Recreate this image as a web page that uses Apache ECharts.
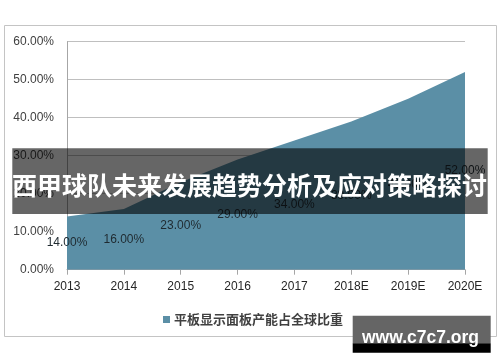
<!DOCTYPE html>
<html><head><meta charset="utf-8">
<script src="https://cdn.jsdelivr.net/npm/echarts@6/dist/echarts.min.js"></script>
<style>html,body{margin:0;padding:0;background:#fff}#c{width:500px;height:362px}</style>
</head><body><div id="c"></div>
<script>
const categories = ['2013', '2014', '2015', '2016', '2017', '2018E', '2019E', '2020E'];
const shareValues = [14, 16, 23, 29, 34, 39, 45, 52];
const yTicks = [0, 10, 20, 30, 40, 50, 60];
const seriesName = '平板显示面板产能占全球比重';
const bannerTitle = '西甲球队未来发展趋势分析及应对策略探讨';
const watermarkText = 'www.c7c7.org';

const AREA = '#5b8fa6';
const chart = echarts.init(document.getElementById('c'), null, {renderer: 'canvas'});
const latin = '"Liberation Sans", Arial, sans-serif';
const cjk = '"Noto Sans CJK SC", sans-serif';

chart.setOption({
  animation: false,
  backgroundColor: '#ffffff',
  grid: {left: 67, right: 35, top: 41.7, bottom: 92.3, containLabel: false},
  xAxis: {
    type: 'category', data: categories, boundaryGap: false,
    axisLine: {show: true, lineStyle: {color: '#a6a6a6', width: 1}},
    axisTick: {show: true, length: 5, alignWithLabel: true, lineStyle: {color: '#a6a6a6'}},
    axisLabel: {color: '#262626', fontSize: 12, fontFamily: latin, margin: 11},
    splitLine: {show: false}
  },
  yAxis: {
    type: 'value', min: yTicks[0], max: yTicks[yTicks.length - 1], interval: yTicks[1] - yTicks[0],
    axisLine: {show: true, lineStyle: {color: '#a6a6a6', width: 1}},
    axisTick: {show: false},
    axisLabel: {color: '#404040', fontSize: 12, fontFamily: latin, margin: 13,
      formatter: v => v.toFixed(2) + '%'},
    splitLine: {show: true, lineStyle: {color: '#bfbfbf', width: 1}}
  },
  legend: {
    show: true, data: [{name: seriesName, icon: 'rect'}],
    left: 158, top: 308, itemWidth: 7, itemHeight: 7, itemGap: 10,
    textStyle: {fontSize: 13, fontFamily: cjk, fontWeight: 'bold', color: '#404040', padding: [0, 0, 0, -1]}
  },
  series: [
    {
      name: seriesName, type: 'line', data: shareValues, symbol: 'none', smooth: false,
      itemStyle: {color: AREA},
      lineStyle: {color: AREA, width: 0},
      areaStyle: {color: AREA, opacity: 1},
      z: 2
    },
    {
      name: 'labels', type: 'custom', clip: false, z: 5,
      data: shareValues.map((v, i) => [i, v]),
      renderItem: function (params, api) {
        const idx = api.value(0), val = api.value(1);
        const top = api.coord([idx, val]);
        const base = api.coord([idx, 0]);
        return {
          type: 'text',
          x: top[0], y: (top[1] + base[1]) / 2,
          style: {
            text: val.toFixed(2) + '%',
            fill: '#1f2a30',
            font: '12px ' + latin,
            align: 'center', verticalAlign: 'middle'
          }
        };
      }
    }
  ],
  graphic: [
    {type: 'rect', z: 0, silent: true,
      shape: {x: 4.5, y: 25.5, width: 492, height: 311},
      style: {fill: 'none', stroke: '#c4c4c4', lineWidth: 1}},
    {type: 'rect', z: 100, silent: true,
      shape: {x: 12.3, y: 148.3, width: 475.4, height: 65.7},
      style: {fill: 'rgba(0,0,0,0.6)'}},
    {type: 'text', z: 101, silent: true, x: 12, y: 185,
      style: {text: bannerTitle, fill: '#ffffff', font: 'bold 25px ' + cjk,
        align: 'left', verticalAlign: 'middle'}},
    {type: 'rect', z: 100, silent: true,
      shape: {x: 352.7, y: 315.7, width: 138, height: 27.6},
      style: {fill: '#656565'}},
    {type: 'rect', z: 100, silent: true,
      shape: {x: 352.7, y: 343.3, width: 138, height: 9.4},
      style: {fill: '#000000'}},
    {type: 'text', z: 101, silent: true, x: 420.5, y: 338,
      style: {text: watermarkText, fill: '#ffffff', font: 'bold 17.5px ' + latin,
        align: 'center', verticalAlign: 'middle'}}
  ]
});
</script>
</body></html>
